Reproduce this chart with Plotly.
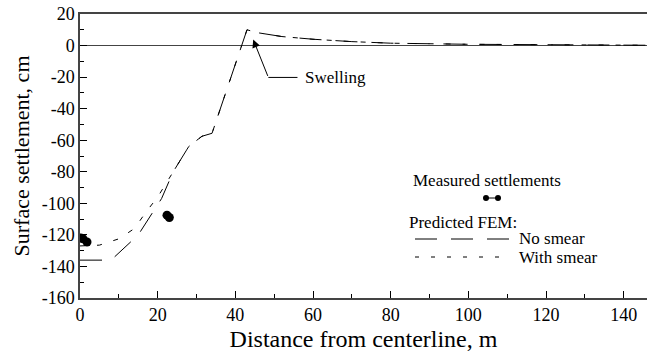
import plotly.graph_objects as go

# --- data ---
no_smear_x = [0, 8, 15, 21, 24, 26.3, 28, 31.4, 34, 43, 45.6, 52, 60, 70, 80, 100, 120, 146]
no_smear_y = [-136, -136, -120, -97, -80, -71, -64, -57.5, -55.6, 10, 8.2, 5.7, 4, 2.5, 1.5, 0.8, 0.4, 0.2]
smear_x = [0, 5, 10, 14, 17, 20, 24, 26.3, 28, 31.4, 34, 43, 45.6, 52, 60, 70, 80, 100, 120, 146]
smear_y = [-127, -126.5, -122.5, -116, -105.5, -96, -80, -71, -64, -57.5, -55.6, 10, 8.2, 5.7, 4, 2.5, 1.5, 0.8, 0.4, 0.2]
meas_x = [0.2, 0.8, 1.8, 22.4, 23.0]
meas_y = [-122, -122.5, -124.5, -107.5, -109]

x_ticks = [0, 20, 40, 60, 80, 100, 120, 140]
y_ticks = [20, 0, -20, -40, -60, -80, -100, -120, -140, -160]

FONT = "Times New Roman, Liberation Serif, DejaVu Serif, serif"

fig = go.Figure()
fig.add_trace(go.Scatter(x=no_smear_x, y=no_smear_y, mode="lines",
                         line=dict(color="black", width=1, dash="22px,14px"),
                         showlegend=False))
fig.add_trace(go.Scatter(x=smear_x, y=smear_y, mode="lines",
                         line=dict(color="black", width=1, dash="5px,12px"),
                         showlegend=False))
fig.add_trace(go.Scatter(x=meas_x, y=meas_y, mode="markers",
                         marker=dict(color="black", size=9),
                         showlegend=False))

# Swelling arrow
fig.add_annotation(x=44.6, y=3.8, ax=48.5, ay=-20.2, axref="x", ayref="y",
                   xref="x", yref="y", text="", showarrow=True,
                   arrowhead=2, arrowsize=1.6, arrowwidth=1, arrowcolor="black")
fig.add_shape(type="line", xref="x", yref="y", x0=48.5, y0=-20.2, x1=56, y1=-20.2,
              line=dict(color="black", width=1))
fig.add_annotation(x=57.3, y=-20.2, xref="x", yref="y", text="Swelling",
                   showarrow=False, xanchor="left", yanchor="middle",
                   font=dict(family=FONT, size=17, color="black"))

# legend (manual)
def px(xp):
    return (xp - 80) / 567.0
def py(yp):
    return (298 - yp) / 284.0

leg_font = dict(family=FONT, size=17, color="black")
fig.add_annotation(x=px(487), y=py(180), xref="paper", yref="paper",
                   text="Measured settlements", showarrow=False,
                   xanchor="center", yanchor="middle", font=leg_font)
fig.add_shape(type="line", xref="paper", yref="paper", x0=px(486), y0=py(198),
              x1=px(498), y1=py(198), line=dict(color="black", width=1))
for cx in (486, 498):
    fig.add_shape(type="circle", xref="paper", yref="paper",
                  x0=px(cx - 3), x1=px(cx + 3), y0=py(198 + 3), y1=py(198 - 3),
                  fillcolor="black", line=dict(color="black", width=0))
fig.add_annotation(x=px(407), y=py(222), xref="paper", yref="paper",
                   text="Predicted FEM:", showarrow=False,
                   xanchor="left", yanchor="middle", font=leg_font)
fig.add_shape(type="line", xref="paper", yref="paper", x0=px(415), y0=py(239),
              x1=px(509), y1=py(239), line=dict(color="black", width=1, dash="22px,14px"))
fig.add_shape(type="line", xref="paper", yref="paper", x0=px(415), y0=py(257),
              x1=px(509), y1=py(257), line=dict(color="black", width=1, dash="4px,12px"))
fig.add_annotation(x=px(517), y=py(238.5), xref="paper", yref="paper",
                   text="No smear", showarrow=False,
                   xanchor="left", yanchor="middle", font=leg_font)
fig.add_annotation(x=px(517), y=py(257.5), xref="paper", yref="paper",
                   text="With smear", showarrow=False,
                   xanchor="left", yanchor="middle", font=leg_font)

fig.update_layout(
    width=651, height=356,
    margin=dict(l=80, r=4, t=14, b=58),
    plot_bgcolor="white", paper_bgcolor="white",
    font=dict(family=FONT, color="black"),
    showlegend=False,
)
fig.update_xaxes(range=[0, 146], tickvals=x_ticks, ticktext=[str(v) for v in x_ticks],
                 showgrid=False, zeroline=False, showline=True, linecolor="#444",
                 linewidth=1.5, mirror=True, ticks="inside", ticklen=7, tickcolor="black",
                 minor=dict(dtick=10, tick0=0, ticks="inside", ticklen=4, tickcolor="black"),
                 tickfont=dict(family=FONT, size=18),
                 title=dict(text="Distance from centerline, m",
                            font=dict(family=FONT, size=24), standoff=6))
fig.update_yaxes(range=[-160, 20], tickvals=y_ticks, ticktext=[str(v) for v in y_ticks],
                 showgrid=False, zeroline=True, zerolinecolor="#444", zerolinewidth=1.2,
                 showline=True, linecolor="#444", linewidth=1.5, mirror=False,
                 ticks="inside", ticklen=7, tickcolor="black",
                 minor=dict(dtick=10, tick0=0, ticks="inside", ticklen=4, tickcolor="black"),
                 tickfont=dict(family=FONT, size=18),
                 title=dict(text="Surface settlement, cm",
                            font=dict(family=FONT, size=22), standoff=6))

fig.write_html("out.html")
